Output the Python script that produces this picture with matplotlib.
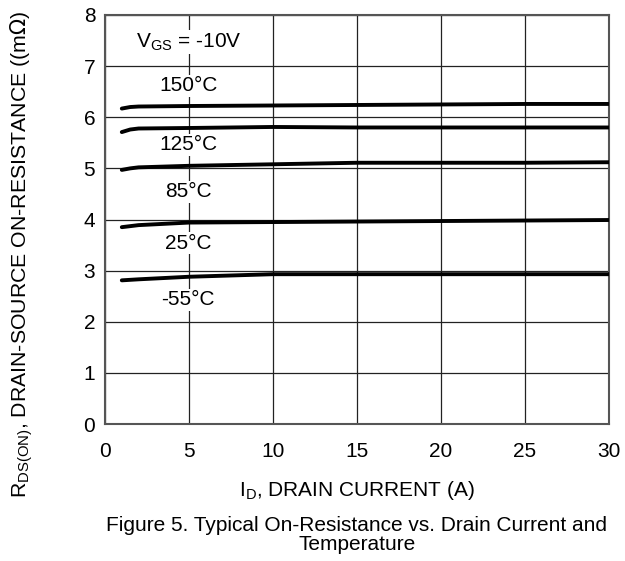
import matplotlib
matplotlib.use("Agg")
import matplotlib.pyplot as plt
import numpy as np

plt.rcParams['font.family'] = ['Liberation Sans', 'DejaVu Sans']

x_150 = [1, 1.5, 2, 5, 10, 15, 20, 25, 30]
y_150 = [6.17, 6.20, 6.21, 6.22, 6.23, 6.24, 6.25, 6.26, 6.26]
x_125 = [1, 1.5, 2, 5, 10, 15, 20, 25, 30]
y_125 = [5.71, 5.76, 5.78, 5.79, 5.81, 5.80, 5.80, 5.80, 5.80]
x_85 = [1, 1.5, 2, 5, 10, 15, 20, 25, 30]
y_85 = [4.97, 5.00, 5.02, 5.05, 5.08, 5.11, 5.11, 5.11, 5.12]
x_25 = [1, 2, 5, 10, 15, 20, 25, 30]
y_25 = [3.85, 3.89, 3.94, 3.95, 3.96, 3.97, 3.98, 3.99]
x_m55 = [1, 2, 5, 10, 15, 20, 25, 30]
y_m55 = [2.81, 2.83, 2.88, 2.93, 2.93, 2.93, 2.93, 2.93]

labels = ["150\u00b0C", "125\u00b0C", "85\u00b0C", "25\u00b0C", "-55\u00b0C"]
label_y = [6.62, 5.46, 4.54, 3.54, 2.43]

x_ticks = [0, 5, 10, 15, 20, 25, 30]
y_ticks = [0, 1, 2, 3, 4, 5, 6, 7, 8]

FS = 15

fig = plt.figure(figsize=(6.25, 5.61), dpi=100)
ax = fig.add_axes([105/625, 1-424/561, (609-105)/625, (424-15)/561])

ax.set_xlim(0, 30)
ax.set_ylim(0, 8)
ax.set_xticks(x_ticks)
ax.set_yticks(y_ticks)
ax.tick_params(length=0, labelsize=FS)
ax.tick_params(axis='x', pad=13)
ax.tick_params(axis='y', pad=7)
ax.grid(True, color='#222222', lw=0.9)
ax.set_axisbelow(True)
for s in ax.spines.values():
    s.set_color('#555555')
    s.set_linewidth(1.5)

for xs, ys in [(x_150, y_150), (x_125, y_125), (x_85, y_85), (x_25, y_25), (x_m55, y_m55)]:
    ax.plot(xs, ys, color='black', lw=2.8, solid_capstyle='round', zorder=3)

bbox = dict(facecolor='white', edgecolor='none', pad=1)
for t, yv in zip(labels, label_y):
    ax.text(4.95, yv, t, ha='center', va='center', fontsize=FS, bbox=bbox, zorder=4)
ax.text(5, 7.47, r"V$_{\mathregular{GS}}$ = -10V", ha='center', va='center', fontsize=FS, bbox=bbox, zorder=4)

fig.text(357/625, 1-490/561, r"I$_{\mathregular{D}}$, DRAIN CURRENT (A)", ha='center', va='center', fontsize=FS)
fig.text(22/625, 1-254/561, r"R$_{\mathregular{DS(ON)}}$, DRAIN-SOURCE ON-RESISTANCE ((m$\Omega$)",
         ha='center', va='center', rotation=90, fontsize=15.3)

fig.text(357/625, 1-535/561, "Figure 5. Typical On-Resistance vs. Drain Current and\nTemperature",
         ha='center', va='center', fontsize=FS, linespacing=0.95)

fig.savefig("out.png", dpi=100)
